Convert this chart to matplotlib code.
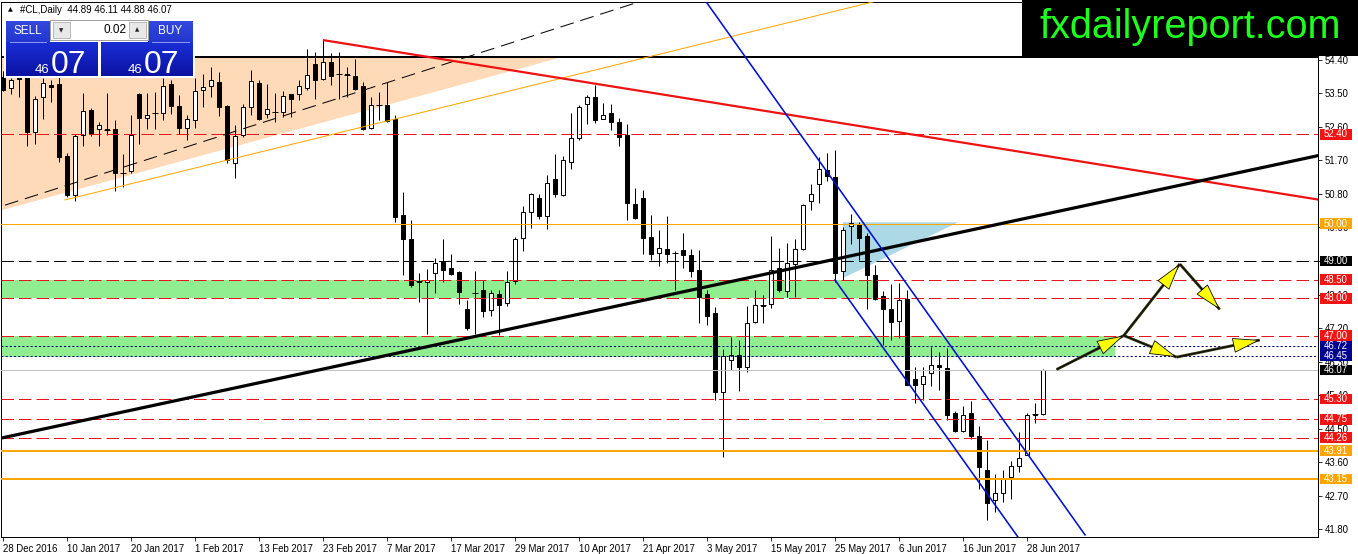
import matplotlib
matplotlib.use('Agg')
import matplotlib.pyplot as plt
import matplotlib.transforms as mtrans
from matplotlib.patches import Rectangle, Polygon
from matplotlib.colors import LinearSegmentedColormap
import numpy as np

plt.rcParams['lines.scale_dashes'] = False
plt.rcParams['font.family'] = ['Liberation Sans', 'DejaVu Sans']

# ---------------- data ----------------
opens = [53.95, 53.65, 53.92, 53.95, 52.45, 53.40, 53.72, 53.74, 51.83, 50.76,
         52.38, 53.05, 52.55, 52.53, 52.53, 51.36, 51.41, 53.47, 52.85, 52.98,
         52.97, 53.75, 53.15, 52.56, 52.78, 53.58, 53.69, 53.80, 53.15, 51.64,
         52.37, 53.13, 53.79, 52.95, 53.01, 53.01, 53.47, 53.47, 53.64, 54.28,
         53.88, 54.33, 54.03, 54.01, 53.96, 53.69, 52.58, 53.20, 53.18, 52.80,
         50.23, 49.60, 48.45, 48.44, 48.68, 48.97, 48.80, 48.70, 47.72, 48.14,
         48.23, 47.68, 48.12, 47.88, 48.46, 49.63, 50.32, 50.68, 50.21, 51.19,
         50.76, 51.66, 52.29, 53.21, 53.40, 52.82, 52.96, 52.73, 52.37, 50.54,
         50.70, 49.65, 49.22, 49.33, 49.22, 49.29, 49.15, 48.77, 48.12, 47.60,
         45.48, 46.35, 46.47, 46.16, 47.37, 47.80, 47.84, 48.82, 48.20, 48.93,
         49.31, 50.61, 51.08, 51.43, 51.26, 48.73, 49.93, 50.00, 49.66, 48.62,
         48.05, 47.72, 47.39, 47.99, 45.84, 45.71, 46.00, 46.22, 46.13, 44.91,
         44.43, 44.91, 44.30, 43.38, 42.58, 42.78, 43.20, 43.49, 43.80, 44.88,
         44.89]
highs = [54.10, 53.90, 53.95, 54.90, 53.42, 53.90, 53.87, 53.95, 51.90, 52.40,
         53.50, 53.10, 52.72, 53.50, 52.78, 51.86, 52.91, 53.52, 53.50, 53.53,
         53.90, 53.85, 53.45, 52.91, 53.90, 54.03, 54.20, 54.07, 53.20, 52.64,
         53.21, 54.12, 53.85, 53.74, 53.50, 53.55, 53.49, 53.87, 54.68, 54.60,
         54.92, 54.57, 54.60, 54.21, 54.43, 53.81, 53.40, 53.54, 53.81, 52.91,
         50.85, 50.09, 48.67, 48.78, 49.07, 49.60, 49.20, 48.72, 47.95, 48.72,
         48.48, 48.21, 48.21, 48.72, 49.64, 50.47, 50.83, 50.81, 51.30, 51.86,
         51.81, 52.96, 53.18, 53.45, 53.72, 53.23, 53.21, 52.85, 52.67, 50.97,
         50.91, 50.23, 49.82, 50.20, 49.26, 49.74, 49.33, 49.29, 48.21, 47.77,
         46.65, 46.96, 46.87, 47.78, 48.21, 48.08, 49.66, 49.36, 49.49, 49.58,
         50.52, 51.08, 51.78, 51.89, 51.99, 49.91, 50.27, 50.05, 49.74, 48.89,
         48.20, 48.39, 48.41, 48.21, 46.16, 46.16, 46.69, 46.56, 46.67, 44.97,
         45.11, 45.24, 44.57, 44.19, 43.29, 43.38, 43.63, 44.41, 44.93, 45.19,
         46.11]
lows = [53.55, 53.47, 53.40, 52.10, 52.13, 52.80, 53.28, 51.65, 50.71, 50.62,
        52.10, 52.35, 52.08, 52.38, 50.88, 50.98, 51.35, 52.15, 52.55, 52.55,
        52.78, 52.95, 52.40, 52.24, 52.56, 53.13, 53.40, 52.90, 51.62, 51.22,
        52.33, 52.91, 52.78, 52.83, 52.73, 52.87, 52.87, 53.31, 53.58, 53.36,
        53.87, 53.72, 53.36, 53.40, 53.58, 52.51, 52.55, 52.78, 52.73, 50.05,
        48.62, 48.30, 47.90, 47.05, 48.15, 48.44, 48.62, 47.84, 47.14, 47.05,
        47.50, 47.52, 47.01, 47.79, 48.38, 49.27, 49.89, 50.14, 49.87, 50.72,
        50.74, 51.48, 52.26, 52.69, 52.71, 52.80, 52.51, 52.09, 50.09, 50.14,
        49.20, 49.02, 48.87, 48.95, 48.21, 48.80, 48.57, 47.34, 47.27, 45.28,
        43.74, 46.07, 45.51, 46.01, 47.34, 47.34, 47.75, 48.17, 48.04, 48.04,
        49.29, 50.38, 50.57, 51.15, 48.44, 48.48, 49.46, 49.02, 47.70, 47.95,
        46.74, 46.87, 46.94, 45.66, 45.19, 45.26, 45.65, 45.55, 44.73, 44.42,
        44.42, 44.21, 42.87, 42.06, 42.26, 42.53, 42.62, 43.34, 43.79, 44.66,
        44.88]
closes = [53.58, 53.85, 53.88, 52.45, 53.34, 53.77, 53.66, 51.78, 50.76, 52.35,
          53.02, 52.40, 52.65, 52.52, 51.35, 51.37, 52.37, 52.83, 52.93, 52.96,
          53.70, 53.15, 52.56, 52.80, 53.55, 53.67, 53.85, 53.13, 51.70, 52.36,
          53.13, 53.83, 52.82, 53.07, 53.00, 53.44, 53.36, 53.70, 54.00, 53.87,
          54.34, 53.97, 54.02, 54.00, 53.63, 52.55, 53.20, 53.19, 52.75, 50.18,
          49.60, 48.35, 48.47, 48.50, 48.96, 48.75, 48.66, 48.17, 47.19, 48.15,
          47.66, 48.15, 47.83, 48.45, 49.60, 50.32, 50.79, 50.21, 51.10, 50.81,
          51.72, 52.29, 53.13, 53.39, 52.78, 52.91, 52.73, 52.33, 50.57, 50.16,
          49.63, 49.20, 49.36, 49.20, 49.21, 49.17, 48.73, 48.03, 47.52, 45.48,
          46.45, 46.47, 46.16, 47.35, 47.81, 47.81, 48.77, 48.21, 48.96, 49.33,
          50.51, 50.79, 51.48, 51.27, 48.68, 49.84, 50.02, 49.63, 48.62, 47.99,
          47.72, 47.36, 47.96, 45.68, 45.68, 45.91, 46.20, 46.15, 44.86, 44.43,
          44.88, 44.30, 43.48, 42.51, 42.78, 43.16, 43.49, 43.72, 44.88, 44.89,
          46.07]

x_tick_labels = ['28 Dec 2016', '10 Jan 2017', '20 Jan 2017', '1 Feb 2017',
                 '13 Feb 2017', '23 Feb 2017', '7 Mar 2017', '17 Mar 2017',
                 '29 Mar 2017', '10 Apr 2017', '21 Apr 2017', '3 May 2017',
                 '15 May 2017', '25 May 2017', '6 Jun 2017', '16 Jun 2017',
                 '28 Jun 2017']
bars_per_label = 8
y_tick_values = [41.80, 42.70, 43.60, 44.50, 45.40, 46.30, 47.20, 48.10,
                 49.00, 49.90, 50.80, 51.70, 52.60, 53.50, 54.40]

red_levels = [52.40, 48.50, 48.00, 47.00, 45.30, 44.75, 44.26]
orange_thin_levels = [50.00]
orange_thick_levels = [43.91, 43.15]
navy_levels = [46.72, 46.45]
black_dash_level = 49.00
black_solid_level = 54.48
bid_price = 46.07

label_levels = [52.40, 50.00, 49.00, 48.50, 48.00, 47.00, 46.72, 46.45,
                46.07, 45.30, 44.75, 44.26, 43.91, 43.15]
label_colors = ['#f01414', '#ffa500', '#000000', '#f01414', '#f01414', '#f01414',
                '#000090', '#000090', '#000000', '#f01414', '#f01414', '#f01414',
                '#ffa500', '#ffa500']

# zones: (low, high, last bar index)
green_zones = [(48.00, 48.50, 108.75), (46.42, 47.00, 139.0)]

# trend objects (bar index, price)
red_trend = [(40.0, 54.93), (164.4, 50.65)]
black_trend = [(-0.4, 44.24), (164.4, 51.83)]
dash_trend = [(0.25, 50.50), (80.0, 55.99)]
orange_trend = [(7.75, 50.64), (109.6, 56.00)]
blue_upper = [(87.75, 56.00), (135.25, 41.65)]
blue_lower = [(104.0, 48.49), (128.5, 41.10)]
peach_tri = [(-0.4, 54.48), (70.0, 54.48), (-0.4, 50.35)]
lightblue_tri = [(105.0, 50.04), (119.4, 50.04), (105.0, 48.54)]

arrow_pts = {'P0': (131.7, 46.09), 'P1': (140.1, 47.00), 'P2': (147.1, 48.92),
             'P3': (152.1, 47.70), 'P4': (146.7, 46.42), 'P5': (157.1, 46.88)}
arrow_segments = [('P0', 'P1'), ('P1', 'P2'), ('P2', 'P3'), ('P1', 'P4'), ('P4', 'P5')]

title_text = '#CL,Daily  44.89 46.11 44.88 46.07'
lot_text = '0.02'
sell_big, sell_small = '07', '46'
buy_big, buy_small = '07', '46'
logo_text = 'fxdailyreport.com'

# ---------------- figure ----------------
W, H = 1358, 554
fig = plt.figure(figsize=(W / 100, H / 100), dpi=100, facecolor='white')
ax = fig.add_axes([1 / W, 17 / H, 1317 / W, 535 / H])
ax.set_facecolor('white')
ax.set_xlim(-0.25, 164.375)
ax.set_ylim(41.593, 55.952)

px = 0.72  # points per pixel

O = np.array(opens); Hh = np.array(highs); L = np.array(lows); C = np.array(closes)
n = len(O)
x = np.arange(n)

# background objects
ax.add_patch(Polygon(peach_tri, closed=True, facecolor='#ffdab9', edgecolor='none', zorder=1))
ax.add_patch(Polygon(lightblue_tri, closed=True, facecolor='#add8e6', edgecolor='none', zorder=1))
xl = ax.get_xlim()
for lo, hi, xe in green_zones:
    ax.add_patch(Rectangle((xl[0], lo), xe - xl[0], hi - lo, facecolor='#90ee90',
                           edgecolor='none', zorder=1))

# candles
ax.vlines(x, L, Hh, color='black', lw=1.0 * px, zorder=4)
up = C >= O
bb = np.minimum(O, C)
bh = np.abs(C - O)
ax.bar(x[up], bh[up], bottom=bb[up], width=0.62, facecolor='white', edgecolor='black',
       linewidth=1.0 * px, zorder=5)
ax.bar(x[~up], bh[~up], bottom=bb[~up], width=0.62, facecolor='black', edgecolor='black',
       linewidth=1.0 * px, zorder=5)
doji = bh < 0.03
ax.hlines(C[doji], x[doji] - 0.32, x[doji] + 0.32, color='black', lw=1.0 * px, zorder=5)

# horizontal levels
dash = (9.0, 3.6)
for lv in red_levels:
    ax.axhline(lv, color='#e8141c', lw=1.0 * px, dashes=dash, zorder=6)
for lv in orange_thin_levels:
    ax.axhline(lv, color='#ffa500', lw=1.0 * px, zorder=6)
for lv in orange_thick_levels:
    ax.axhline(lv, color='#ffa500', lw=2.0 * px, zorder=6)
for lv in navy_levels:
    ax.axhline(lv, color='#000080', lw=1.0 * px, dashes=(1.5, 1.5), zorder=6)
ax.axhline(black_dash_level, color='black', lw=1.0 * px, dashes=dash, zorder=6)
ax.axhline(black_solid_level, color='black', lw=2.0 * px, zorder=6)
ax.axhline(bid_price, color='#c0c0c0', lw=1.0 * px, zorder=6)

# trend lines
def seg(pts, **kw):
    ax.plot([pts[0][0], pts[1][0]], [pts[0][1], pts[1][1]], **kw)

seg(orange_trend, color='#ffa500', lw=1.0 * px, zorder=6)
seg(dash_trend, color='black', lw=1.0 * px, dashes=(10.0, 5.0), zorder=6)
seg(red_trend, color='#ee1111', lw=2.2 * px, zorder=7, solid_capstyle='butt')
seg(black_trend, color='black', lw=3.2 * px, zorder=7, solid_capstyle='butt')
seg(blue_upper, color='#0010d0', lw=1.6 * px, zorder=7)
seg(blue_lower, color='#0010d0', lw=1.6 * px, zorder=7)

# yellow arrows
for a, b in arrow_segments:
    p, q = arrow_pts[a], arrow_pts[b]
    ax.plot([p[0], q[0]], [p[1], q[1]], color='#33330f', lw=2.8 * px, zorder=8,
            solid_capstyle='butt')
    ax.annotate('', xy=q, xytext=p,
                arrowprops=dict(arrowstyle='-|>,head_length=1.8,head_width=0.5',
                                facecolor='#ffff00', edgecolor='black', lw=0.8 * px,
                                shrinkA=0, shrinkB=0, mutation_scale=10),
                zorder=9)

# axes styling
for s in ax.spines.values():
    s.set_color('black')
    s.set_linewidth(1.0 * px)
ax.yaxis.tick_right()
ax.set_yticks(y_tick_values)
ax.set_yticklabels(['%.2f' % v for v in y_tick_values])
ax.tick_params(axis='y', which='both', direction='out', length=3, width=0.8 * px,
               pad=2, labelsize=6.9, colors='black')
ax.set_xticks([i * bars_per_label for i in range(len(x_tick_labels))])
ax.set_xticklabels(x_tick_labels, ha='left')
ax.tick_params(axis='x', direction='out', length=3, width=0.8 * px, pad=2,
               labelsize=6.9, colors='black')

# colored price labels on the axis
btr = mtrans.blended_transform_factory(ax.transAxes, ax.transData)
bw = 32 / 1317
bhh = 10.6 / 37.26
for lv, col in zip(label_levels, label_colors):
    ax.add_patch(Rectangle((1.0015, lv - bhh / 2), bw, bhh, transform=btr, facecolor=col,
                           edgecolor='none', clip_on=False, zorder=20))
    ax.text(1.0015 + bw / 2, lv, '%.2f' % lv, transform=btr, color='white', fontsize=6.9,
            ha='center', va='center', zorder=21, clip_on=False)

# ---------------- overlay (pixel coordinates) ----------------
ov = fig.add_axes([0, 0, 1, 1], zorder=10)
ov.set_autoscale_on(False)
ov.set_xlim(0, W)
ov.set_ylim(H, 0)
ov.axis('off')
ov.patch.set_alpha(0)

def grad(x0, y0, x1, y1, ctop, cbot, z=2):
    cm = LinearSegmentedColormap.from_list('g', [ctop, cbot])
    ov.imshow(np.linspace(0, 1, 64).reshape(-1, 1), cmap=cm, extent=[x0, x1, y1, y0],
              aspect='auto', zorder=z, interpolation='bilinear')

# panel background (white frame)
ov.add_patch(Rectangle((4, 18), 191, 60, facecolor='white', edgecolor='none', zorder=1))
grad(6, 21, 50, 43, '#3348dc', '#2236d0')
grad(6, 42, 98, 76, '#1a2ed6', '#0c12a2')
grad(148, 21, 193, 43, '#3348dc', '#2236d0')
grad(101, 42, 193, 76, '#1a2ed6', '#0c12a2')
ov.add_patch(Rectangle((50, 20), 98, 20, facecolor='white', edgecolor='#a0a0a0', lw=0.7, zorder=3))
ov.add_patch(Rectangle((53, 22), 17, 16, facecolor='#e8e8e8', edgecolor='#b0b0b0', lw=0.6, zorder=4))
ov.add_patch(Rectangle((129, 22), 17, 16, facecolor='#e8e8e8', edgecolor='#b0b0b0', lw=0.6, zorder=4))
ov.text(61.5, 30.5, '\u25bc', fontsize=4, ha='center', va='center', color='#222222', zorder=5,
        family=['DejaVu Sans'])
ov.text(137.5, 30, '\u25b2', fontsize=4, ha='center', va='center', color='#222222', zorder=5,
        family=['DejaVu Sans'])
ov.text(126, 30, lot_text, fontsize=8.5, ha='right', va='center', color='black', zorder=5)
ov.plot([10, 46], [42, 42], color='#8e9ae8', lw=0.7, zorder=5)
ov.plot([152, 189], [42, 42], color='#8e9ae8', lw=0.7, zorder=5)
ov.text(28, 31, 'SELL', fontsize=8.5, ha='center', va='center', color='white', zorder=5)
ov.text(170, 31, 'BUY', fontsize=8.5, ha='center', va='center', color='white', zorder=5)
ov.text(35, 73, sell_small, fontsize=9.5, ha='left', va='baseline', color='white', zorder=5)
ov.text(51, 73, sell_big, fontsize=23, ha='left', va='baseline', color='white', zorder=5)
ov.text(128, 73, buy_small, fontsize=9.5, ha='left', va='baseline', color='white', zorder=5)
ov.text(144, 73, buy_big, fontsize=23, ha='left', va='baseline', color='white', zorder=5)

# title
ov.text(8, 10, '\u25b2', fontsize=4.5, ha='left', va='center', color='black',
        family=['DejaVu Sans'])
ov.text(20, 10, title_text, fontsize=7, ha='left', va='center', color='black')

# logo
ov.add_patch(Rectangle((1022, 0), W - 1022, 56, facecolor='black', edgecolor='none', zorder=30))
ov.text(1190, 27, logo_text, fontsize=28.5, ha='center', va='center', color='#1eff1e',
        zorder=31)

fig.savefig('out.png', dpi=100, facecolor='white')
